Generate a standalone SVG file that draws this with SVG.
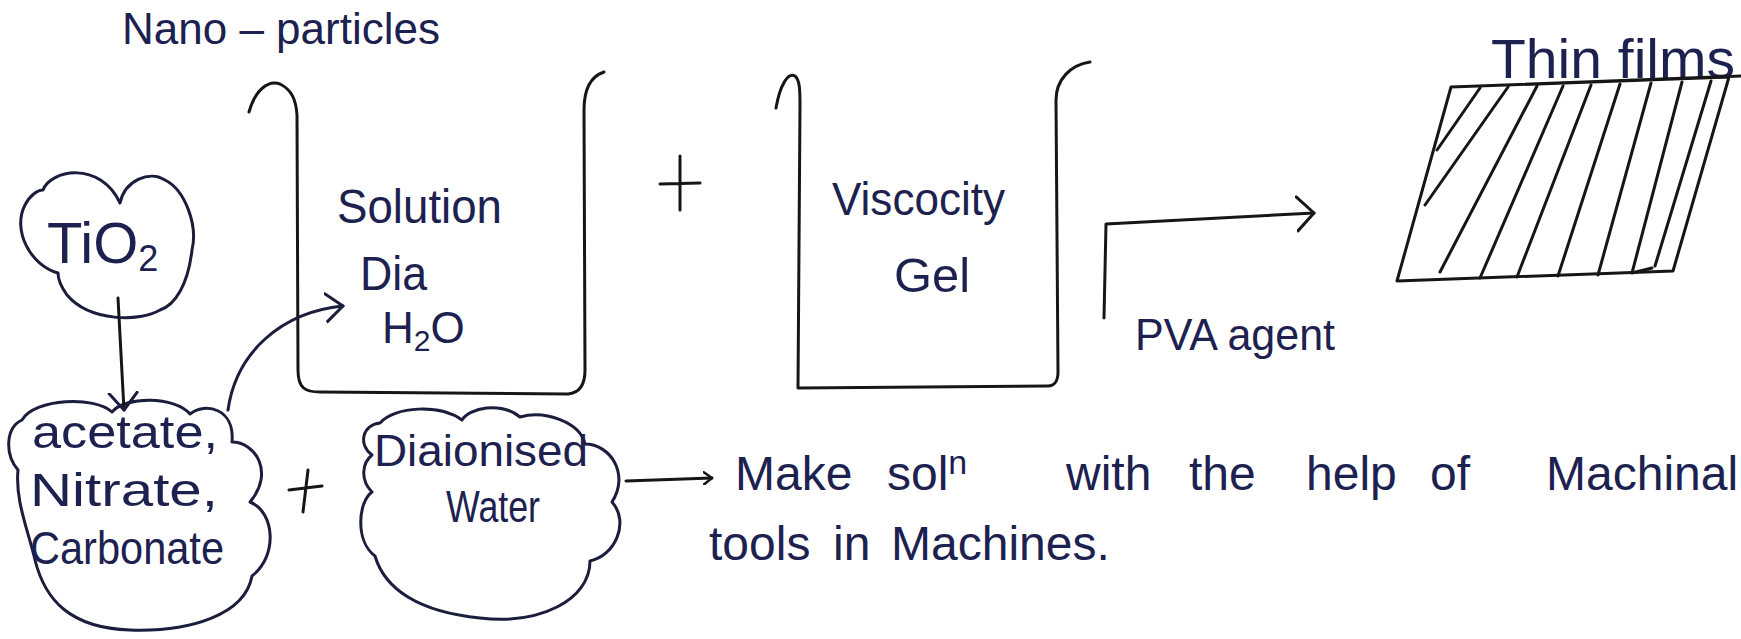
<svg xmlns="http://www.w3.org/2000/svg" width="1741" height="639" viewBox="0 0 1741 639">
<style>
.ink{fill:#1d2150;font-family:"Liberation Sans",Arial,sans-serif;}
.ln{fill:none;stroke:#161616;stroke-width:3;stroke-linecap:round;stroke-linejoin:round;}
.bl{fill:none;stroke:#1b1d3c;stroke-width:3;stroke-linecap:round;stroke-linejoin:round;}
</style>
<defs>
<marker id="arr" markerUnits="userSpaceOnUse" viewBox="0 0 20 40" refX="18" refY="20" markerWidth="20" markerHeight="40" orient="auto">
<path d="M1,3 L18,20 L1,37" fill="none" stroke="#161616" stroke-width="3" stroke-linecap="round" stroke-linejoin="round"/>
</marker>
<marker id="arrM" markerUnits="userSpaceOnUse" viewBox="0 0 20 32" refX="18" refY="16" markerWidth="20" markerHeight="32" orient="auto">
<path d="M1,2 L18,16 L1,30" fill="none" stroke="#1b1d3c" stroke-width="3" stroke-linecap="round" stroke-linejoin="round"/>
</marker>
<marker id="arrS" markerUnits="userSpaceOnUse" viewBox="0 0 10 14" refX="9" refY="7" markerWidth="10" markerHeight="14" orient="auto">
<path d="M1,1 L9,7 L1,13" fill="none" stroke="#161616" stroke-width="2.5" stroke-linecap="round" stroke-linejoin="round"/>
</marker>
</defs>
<rect width="1741" height="639" fill="#ffffff"/>

<g id="title">
<text class="ink" x="122" y="44" font-size="44">Nano – particles</text>
</g>

<g id="tio2">
<path class="bl" d="M58 273 C30 265,12 230,25 205 C30 195,38 190,43 190 C50 170,100 160,120 203 C125 180,150 170,165 180 C185 190,198 225,192 250 C188 285,175 305,160 310 C140 322,90 322,67 295 C62 288,58 280,58 273 Z"/>
<text class="ink" x="47" y="263" font-size="58">TiO<tspan font-size="36" dy="8">2</tspan></text>
</g>

<g id="salts">
<path class="bl" d="M18 470 C5 455,5 428,22 420 C35 398,95 396,112 412 C125 396,175 396,190 414 C205 402,235 408,232 442 C255 442,275 472,250 502 C275 512,278 556,252 576 C245 615,190 632,130 630 C70 628,45 600,35 560 C28 530,15 500,18 470 Z"/>
<text class="ink" x="32" y="448" font-size="46" textLength="186" lengthAdjust="spacingAndGlyphs">acetate,</text>
<text class="ink" x="30" y="506" font-size="46" textLength="188" lengthAdjust="spacingAndGlyphs">Nitrate,</text>
<text class="ink" x="30" y="564" font-size="46" textLength="194" lengthAdjust="spacingAndGlyphs">Carbonate</text>
</g>

<g id="plus1">
<path class="ln" d="M289 490 L322 486 M308 470 L303 512"/>
</g>

<g id="water">
<path class="bl" d="M372 455 C358 445,362 425,380 423 C395 406,440 404,462 420 C470 408,500 401,520 417 C545 410,580 422,585 444 C610 444,630 474,612 502 C630 522,615 556,590 561 C590 600,540 625,480 618 C420 612,385 590,375 556 C355 541,358 502,372 492 C360 480,362 463,372 455 Z"/>
<text class="ink" x="374" y="466" font-size="44" textLength="214" lengthAdjust="spacingAndGlyphs">Diaionised</text>
<text class="ink" x="446" y="522" font-size="44" textLength="94" lengthAdjust="spacingAndGlyphs">Water</text>
</g>

<g id="note">
<text class="ink" y="490" font-size="48"><tspan x="735">Make</tspan><tspan x="887">sol</tspan><tspan dy="-16" font-size="34">n</tspan><tspan x="1066" dy="16">with</tspan><tspan x="1189">the</tspan><tspan x="1306">help</tspan><tspan x="1430">of</tspan><tspan x="1546">Machinal</tspan></text>
<text class="ink" y="560" font-size="48"><tspan x="709">tools</tspan><tspan x="833">in</tspan><tspan x="891">Machines.</tspan></text>
</g>

<g id="beaker-solution">
<path class="ln" d="M249 112 C255 90,268 80,280 84 C292 90,296 100,297 115 L298 370 C298 388,305 392,320 392 L568 394 C580 393,585 385,585 370 L584 110 C584 88,592 76,604 72"/>
<text class="ink" x="337" y="223" font-size="48" textLength="165" lengthAdjust="spacingAndGlyphs">Solution</text>
<text class="ink" x="360" y="290" font-size="48" textLength="67" lengthAdjust="spacingAndGlyphs">Dia</text>
<text class="ink" x="382" y="343" font-size="44">H<tspan font-size="30" dy="8">2</tspan><tspan dy="-8">O</tspan></text>
</g>

<g id="plus2">
<path class="ln" d="M660 184 L700 183 M680 156 L680 210"/>
</g>

<g id="beaker-gel">
<path class="ln" d="M776 108 C780 85,788 72,795 76 C800 80,800 92,800 105 L798 388 L1048 386 C1055 386,1058 380,1058 372 L1056 100 C1056 80,1070 65,1090 62"/>
<text class="ink" x="832" y="215" font-size="46" textLength="173" lengthAdjust="spacingAndGlyphs">Viscocity</text>
<text class="ink" x="894" y="292" font-size="48" textLength="76" lengthAdjust="spacingAndGlyphs">Gel</text>
</g>

<g id="pva">
<text class="ink" x="1135" y="350" font-size="44" textLength="200" lengthAdjust="spacingAndGlyphs">PVA agent</text>
</g>

<g id="thin-film">
<text class="ink" x="1491" y="78" font-size="56" textLength="244" lengthAdjust="spacingAndGlyphs">Thin films</text>
<path class="ln" d="M1451 87 L1741 76 M1729 77 L1673 271 L1397 281 L1451 87 Z"/>
<path class="ln" d="M1480 88 L1437 150 M1508 87 L1425 205 M1537 86 L1440 272 M1563 86 L1480 278 M1591 85 L1517 277 M1620 84 L1558 276 M1651 83 L1598 275 M1682 82 L1632 273 M1711 81 L1655 266 M1632 273 L1652 268"/>
</g>

<g id="connectors">
<path class="ln" d="M118 298 L124 410" marker-end="url(#arrM)"/>
<path class="bl" d="M228 410 C236 352,282 312,343 306" marker-end="url(#arrM)"/>
<path class="ln" d="M626 481 L712 478" marker-end="url(#arrS)"/>
<path class="ln" d="M1104 318 L1106 224 L1314 213" marker-end="url(#arr)"/>
</g>
</svg>
